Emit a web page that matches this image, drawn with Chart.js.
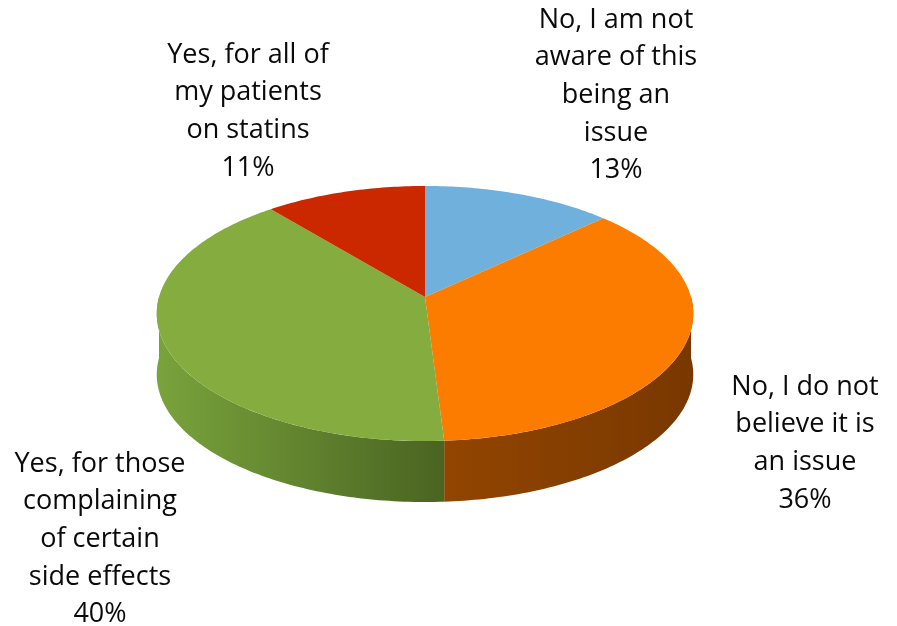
<!DOCTYPE html>
<html>
<head>
<meta charset="utf-8">
<script src="https://cdn.jsdelivr.net/npm/chart.js@4"></script>
<style>
    html, body { margin: 0; padding: 0; background: #ffffff; }
    canvas { display: block; }
</style>
</head>
<body>
<canvas id="myChart" width="897" height="626"></canvas>
<script>
// 資料
let categories = [
    ["No, I am not", "aware of this", "being an", "issue"],
    ["No, I do not", "believe it is", "an issue"],
    ["Yes, for those", "complaining", "of certain", "side effects"],
    ["Yes, for all of", "my patients", "on statins"],
]
let percents = [13, 36, 40, 11]

// 顏色 (上面 / 側面 淺→深)
let topColors = ["#70b0dc", "#fc7c00", "#84ac3f", "#cc2800"]
let sideColors = [
    ["#4a7ea3", "#3d6a8a"],
    ["#924500", "#793800"],
    ["#79a33c", "#4a6421"],
    ["#8f1c00", "#7a1800"],
]

// 標籤位置 (第一行中心)
let labelAnchors = [
    {x: 616, y: 20},
    {x: 805, y: 387},
    {x: 100, y: 464},
    {x: 248, y: 55},
]
const LINE_GAP = 37.7

// 3D 投影參數
const PERSP = 0.1294   // 透視
const SQUASH = 0.4714  // 垂直壓縮
const DEPTH = 61       // 側面厚度


function project(arc, angle){
    let X = Math.cos(angle)
    let Z = Math.sin(angle)
    let w = 1 - PERSP * Z
    return {
        x: arc.x + arc.outerRadius * X / w,
        y: arc.y + arc.outerRadius * SQUASH * Z / w,
    }
}


function arcPoints(arc, start, end){
    let pts = []
    let steps = Math.max(8, Math.ceil((end - start) * 60))
    for (let k=0; k<=steps; k++){
        pts.push(project(arc, start + (end - start) * k / steps))
    }
    return pts
}


const pie3d = {
    id: 'pie3d',
    beforeDatasetsDraw(chart){
        let ctx = chart.ctx
        let arcs = chart.getDatasetMeta(0).data

        // 側面 (只畫前半圈)
        arcs.forEach((arc, i) => {
            let s = Math.max(arc.startAngle, 0)
            let e = Math.min(arc.endAngle, Math.PI)
            if (e <= s){
                return
            }
            let pts = arcPoints(arc, s, e)
            ctx.beginPath()
            pts.forEach((p, j) => j ? ctx.lineTo(p.x, p.y) : ctx.moveTo(p.x, p.y))
            for (let j=pts.length-1; j>=0; j--){
                ctx.lineTo(pts[j].x, pts[j].y + DEPTH)
            }
            ctx.closePath()
            let xs = pts.map(p => p.x)
            let g = ctx.createLinearGradient(Math.min(...xs), 0, Math.max(...xs), 0)
            g.addColorStop(0, sideColors[i][0])
            g.addColorStop(1, sideColors[i][1])
            ctx.fillStyle = g
            ctx.fill()
        })

        // 上面
        arcs.forEach((arc, i) => {
            let pts = arcPoints(arc, arc.startAngle, arc.endAngle)
            ctx.beginPath()
            ctx.moveTo(arc.x, arc.y)
            pts.forEach(p => ctx.lineTo(p.x, p.y))
            ctx.closePath()
            ctx.fillStyle = arc.options.backgroundColor
            ctx.fill()
        })

        return false
    },
    afterDraw(chart){
        let ctx = chart.ctx
        ctx.save()
        ctx.font = '27px "Open Sans", sans-serif'
        ctx.fillStyle = '#0a0a0a'
        ctx.textAlign = 'center'
        ctx.textBaseline = 'middle'
        chart.data.labels.forEach((lines, i) => {
            let all = lines.concat([`${percents[i]}%`])
            all.forEach((t, j) => {
                ctx.fillText(t, labelAnchors[i].x, labelAnchors[i].y + j * LINE_GAP)
            })
        })
        ctx.restore()
    }
}


function newChart(){
    let canvasNew = document.querySelector('#myChart').getContext('2d')

    new Chart(canvasNew, {
        type: 'pie',
        data: {
            labels: categories,
            datasets: [{
                data: percents,
                backgroundColor: topColors,
                borderWidth: 0,
            }]
        },
        options: {
            responsive: false,
            animation: false,
            layout: {
                padding: {left: 159, right: 206, top: 31, bottom: 63}
            },
            plugins: {
                legend: { display: false },
                tooltip: { enabled: false },
            },
        },
        plugins: [pie3d],
    })
}


newChart()
</script>
</body>
</html>
